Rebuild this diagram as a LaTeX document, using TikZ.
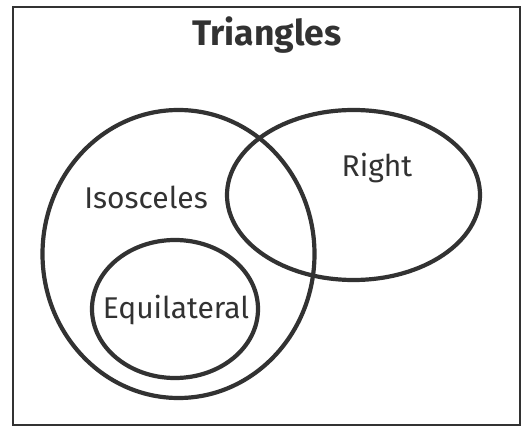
\documentclass[tikz,border=0pt]{standalone}
\usepackage{fontspec}
\setmainfont{Fira Sans}
\usetikzlibrary{shapes.geometric}
\definecolor{inkgray}{RGB}{50,50,50}

\begin{document}
\begin{tikzpicture}[x=1pt, y=-1pt,
  venn/.style={ellipse, draw=inkgray, line width=4.2pt, inner sep=0pt},
  setlabel/.style={font=\fontsize{30}{34}\selectfont, text=inkgray, inner sep=0pt}
]
\useasboundingbox (0,0) rectangle (524,427);
% Universe
\draw[inkgray, line width=2pt] (13,7) rectangle (520,425);
\node[font=\fontsize{35.5}{40}\selectfont\bfseries, text=inkgray, inner sep=0pt] (title) at (267,35) {Triangles};

% Sets
\node[venn, minimum width=272pt, minimum height=288pt] (iso) at (178.5,254) {};
\node[venn, minimum width=253pt, minimum height=170pt] (right) at (353.5,195) {};
\node[venn, minimum width=166pt, minimum height=138pt] (equi) at (175,309) {};

% Set names
\node[setlabel] (isoName) at (146,197) {Isosceles};
\node[setlabel] (rightName) at (377,168) {Right};
\node[setlabel] (equiName) at (176,310) {Equilateral};
\end{tikzpicture}
\end{document}
